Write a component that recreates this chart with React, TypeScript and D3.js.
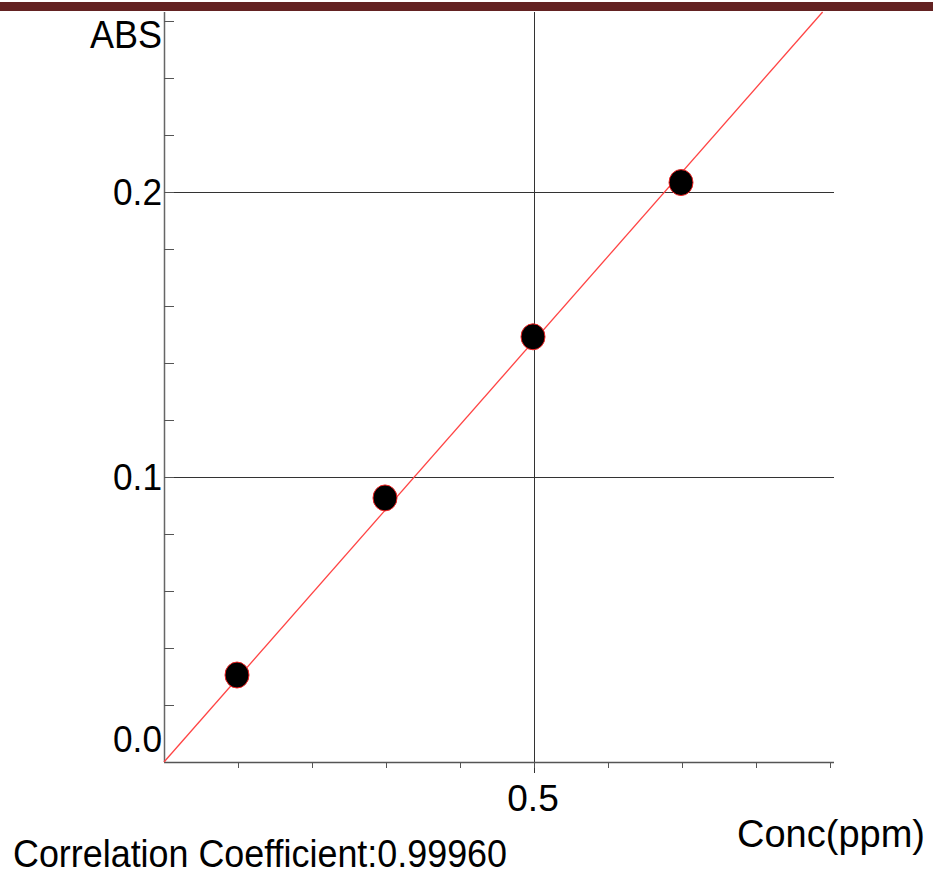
import React, { useEffect, useRef } from "react"
import * as d3 from "d3"

// calibration standards
const conc = [0.1, 0.3, 0.5, 0.7]
const abs = [0.0305, 0.0926, 0.1491, 0.2032]
// fitted line (through origin)
const fitSlope = 0.2955
const fitIntercept = 0
const yTickLabels = [0.0, 0.1, 0.2]
const xTickLabels = [0.5]
const correlation = "0.99960"

const W = 933
const H = 879

export default function App() {
    const ref = useRef<SVGSVGElement>(null)

    useEffect(() => {
        const svg = d3.select(ref.current)
        svg.selectAll("*").remove()

        const x = d3.scaleLinear().domain([0, 0.9]).range([164, 830])
        const y = d3.scaleLinear().domain([0, 0.263]).range([762, 12])
        const font = "'Liberation Sans', Arial, sans-serif"

        // top band
        svg.append("rect")
            .attr("x", 0).attr("y", 2)
            .attr("width", W).attr("height", 9)
            .attr("fill", "#632222")

        // gridlines
        svg.selectAll(".hgrid")
            .data(yTickLabels.filter(d => d > 0))
            .enter()
            .append("line")
            .attr("x1", x(0)).attr("x2", 834)
            .attr("y1", d => Math.round(y(d)) + 0.5)
            .attr("y2", d => Math.round(y(d)) + 0.5)
            .attr("stroke", "#333")
        svg.selectAll(".vgrid")
            .data(xTickLabels)
            .enter()
            .append("line")
            .attr("x1", d => Math.round(x(d)) + 0.5)
            .attr("x2", d => Math.round(x(d)) + 0.5)
            .attr("y1", y(0.263)).attr("y2", y(0) + 11)
            .attr("stroke", "#333")

        // axes
        svg.append("line")
            .attr("x1", x(0) + 0.5).attr("x2", x(0) + 0.5)
            .attr("y1", y(0.263)).attr("y2", y(0))
            .attr("stroke", "#666").attr("stroke-width", 1.5)
        svg.append("line")
            .attr("x1", x(0)).attr("x2", 834)
            .attr("y1", y(0) + 0.5).attr("y2", y(0) + 0.5)
            .attr("stroke", "#555").attr("stroke-width", 1.5)

        // minor ticks
        const yMinor = d3.range(1, 14).map(i => i * 0.02)
        svg.selectAll(".ytick")
            .data(yMinor)
            .enter()
            .append("line")
            .attr("x1", x(0)).attr("x2", x(0) + 10)
            .attr("y1", d => Math.round(y(d)) + 0.5)
            .attr("y2", d => Math.round(y(d)) + 0.5)
            .attr("stroke", "#555")
        const xMinor = d3.range(1, 10).map(i => i * 0.1)
        svg.selectAll(".xtick")
            .data(xMinor)
            .enter()
            .append("line")
            .attr("x1", d => Math.round(x(d)) + 0.5)
            .attr("x2", d => Math.round(x(d)) + 0.5)
            .attr("y1", y(0)).attr("y2", y(0) + 6)
            .attr("stroke", "#555")

        // tick labels
        svg.selectAll(".ylab")
            .data(yTickLabels)
            .enter()
            .append("text")
            .attr("x", x(0) - 2)
            .attr("y", d => Math.min(y(d) + 13, y(0) - 10))
            .attr("text-anchor", "end")
            .attr("font-family", font)
            .attr("font-size", 37)
            .attr("textLength", 49)
            .attr("lengthAdjust", "spacingAndGlyphs")
            .text(d => d.toFixed(1))
        svg.selectAll(".xlab")
            .data(xTickLabels)
            .enter()
            .append("text")
            .attr("x", d => x(d) - 1)
            .attr("y", 811)
            .attr("text-anchor", "middle")
            .attr("font-family", font)
            .attr("font-size", 37)
            .text(d => d.toFixed(1))

        // fitted line
        const xEnd = (0.263 - fitIntercept) / fitSlope
        const line = d3.line<number>()
            .x(d => x(d))
            .y(d => y(fitSlope * d + fitIntercept))
        svg.append("path")
            .attr("d", line([0, xEnd]))
            .attr("fill", "none")
            .attr("stroke", "#ff4444")
            .attr("stroke-width", 1.3)

        // points
        svg.selectAll(".pt")
            .data(conc)
            .enter()
            .append("ellipse")
            .attr("cx", d => x(d) - 1)
            .attr("cy", (d, i) => y(abs[i]))
            .attr("rx", 12)
            .attr("ry", 13)
            .attr("fill", "#000")
            .attr("stroke", "#e22")
            .attr("stroke-width", 1)

        // titles
        svg.append("text")
            .attr("x", 162).attr("y", 48)
            .attr("text-anchor", "end")
            .attr("font-family", font)
            .attr("font-size", 38)
            .attr("textLength", 72)
            .attr("lengthAdjust", "spacingAndGlyphs")
            .text("ABS")
        svg.append("text")
            .attr("x", 925).attr("y", 847)
            .attr("text-anchor", "end")
            .attr("font-family", font)
            .attr("font-size", 38)
            .text("Conc(ppm)")
        svg.append("text")
            .attr("x", 13).attr("y", 867)
            .attr("font-family", font)
            .attr("font-size", 38)
            .attr("textLength", 494)
            .attr("lengthAdjust", "spacingAndGlyphs")
            .text("Correlation Coefficient:" + correlation)
    }, [])

    return (
        <svg
            ref={ref}
            width={W}
            height={H}
            style={{ position: "absolute", left: 0, top: 0, background: "#fff" }}
        />
    )
}
